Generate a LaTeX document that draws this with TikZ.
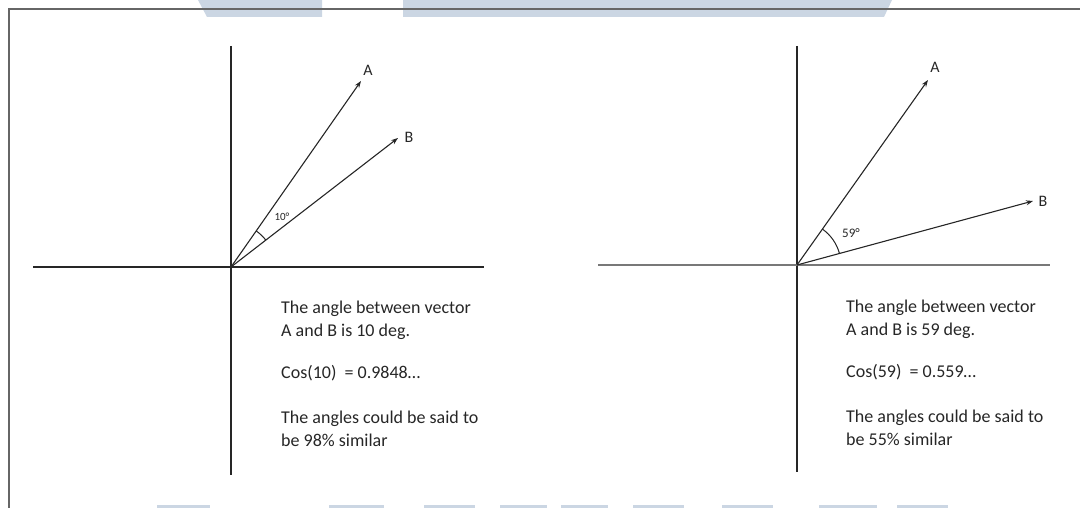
\documentclass[tikz,border=0pt]{standalone}
\usepackage{fontspec}
\setmainfont{Carlito}
\usetikzlibrary{arrows.meta,angles}
\definecolor{wm}{RGB}{203,214,227}
\definecolor{ink}{RGB}{38,38,38}
\definecolor{axgray}{RGB}{120,120,120}
\tikzset{
 axis/.style={draw=ink, line width=1.4pt},
 vec/.style={draw=ink, line width=1.1pt, -{Stealth[length=7pt,width=5pt]}},
 lbl/.style={font=\fontsize{16}{18}\selectfont, text=ink, inner sep=0pt},
 deg/.style={text=ink, inner sep=0pt},
 body/.style={font=\fontsize{18}{20}\selectfont, text=ink, inner sep=0pt, anchor=base west},
 ang/.style={draw=ink, line width=1pt, angle radius=44pt},
 wmark/.style={fill=wm, draw=none},
 frame/.style={draw=gray!80!black, line width=1.5pt}
}
\begin{document}
\begin{tikzpicture}[x=1pt,y=1pt]
\useasboundingbox (0,0) rectangle (1080,-508);
% watermark shapes
\fill[wmark] (198,0) -- (322,0) -- (322,-17) -- (207,-17) -- cycle;
\fill[wmark] (403,0) -- (892,0) -- (884,-17) -- (403,-17) -- cycle;
\foreach \a/\b in {157/210,329/384,424/475,500/547,561/608,633/684,722/773,819/877,897/948}
  \fill[wmark] (\a,-505) rectangle (\b,-508);
% frame
\draw[frame] (1080,-9) -- (9,-9) -- (9,-508);
% ---------- left diagram ----------
\coordinate (O1) at (231,-267);
\coordinate (Y1t) at (231,-46);
\coordinate (Y1b) at (231,-475);
\coordinate (X1l) at (33,-267);
\coordinate (X1r) at (484,-267);
\draw[axis] (Y1t) -- (Y1b);
\draw[axis] (X1l) -- (X1r);
\coordinate (A1) at (361,-81);
\coordinate (B1) at (398,-138);
\draw[vec] (O1) -- (A1);
\draw[vec] (O1) -- (B1);
\pic[ang] {angle = B1--O1--A1};
\node[lbl] (la1) at (368,-70) {A};
\node[lbl] (lb1) at (409,-137) {B};
\node[deg, font=\fontsize{11}{12}\selectfont] (d1) at (282,-217) {10°};
\node[body] (t11) at (281,-313) {The angle between vector};
\node[body] (t12) at (281,-336) {A and B is 10 deg.};
\node[body] (t13) at (281,-378) {Cos(10)~~= 0.9848…};
\node[body] (t14) at (281,-423) {The angles could be said to};
\node[body] (t15) at (281,-446) {be 98\% similar};
% ---------- right diagram ----------
\coordinate (O2) at (797,-265);
\coordinate (Y2t) at (797,-46);
\coordinate (Y2b) at (797,-472);
\coordinate (X2l) at (598,-265);
\coordinate (X2r) at (1050,-265);
\draw[axis] (Y2t) -- (Y2b);
\draw[axis, draw=axgray] (X2l) -- (X2r);
\coordinate (A2) at (928,-80);
\coordinate (B2) at (1033,-201);
\draw[vec] (O2) -- (A2);
\draw[vec] (O2) -- (B2);
\pic[ang] {angle = B2--O2--A2};
\node[lbl] (la2) at (935,-67) {A};
\node[lbl] (lb2) at (1043,-201) {B};
\node[deg, font=\fontsize{13}{14}\selectfont] (d2) at (851,-233) {59°};
\node[body] (t21) at (846,-312) {The angle between vector};
\node[body] (t22) at (846,-335) {A and B is 59 deg.};
\node[body] (t23) at (846,-377) {Cos(59)~~= 0.559…};
\node[body] (t24) at (846,-422) {The angles could be said to};
\node[body] (t25) at (846,-445) {be 55\% similar};
\end{tikzpicture}
\end{document}
